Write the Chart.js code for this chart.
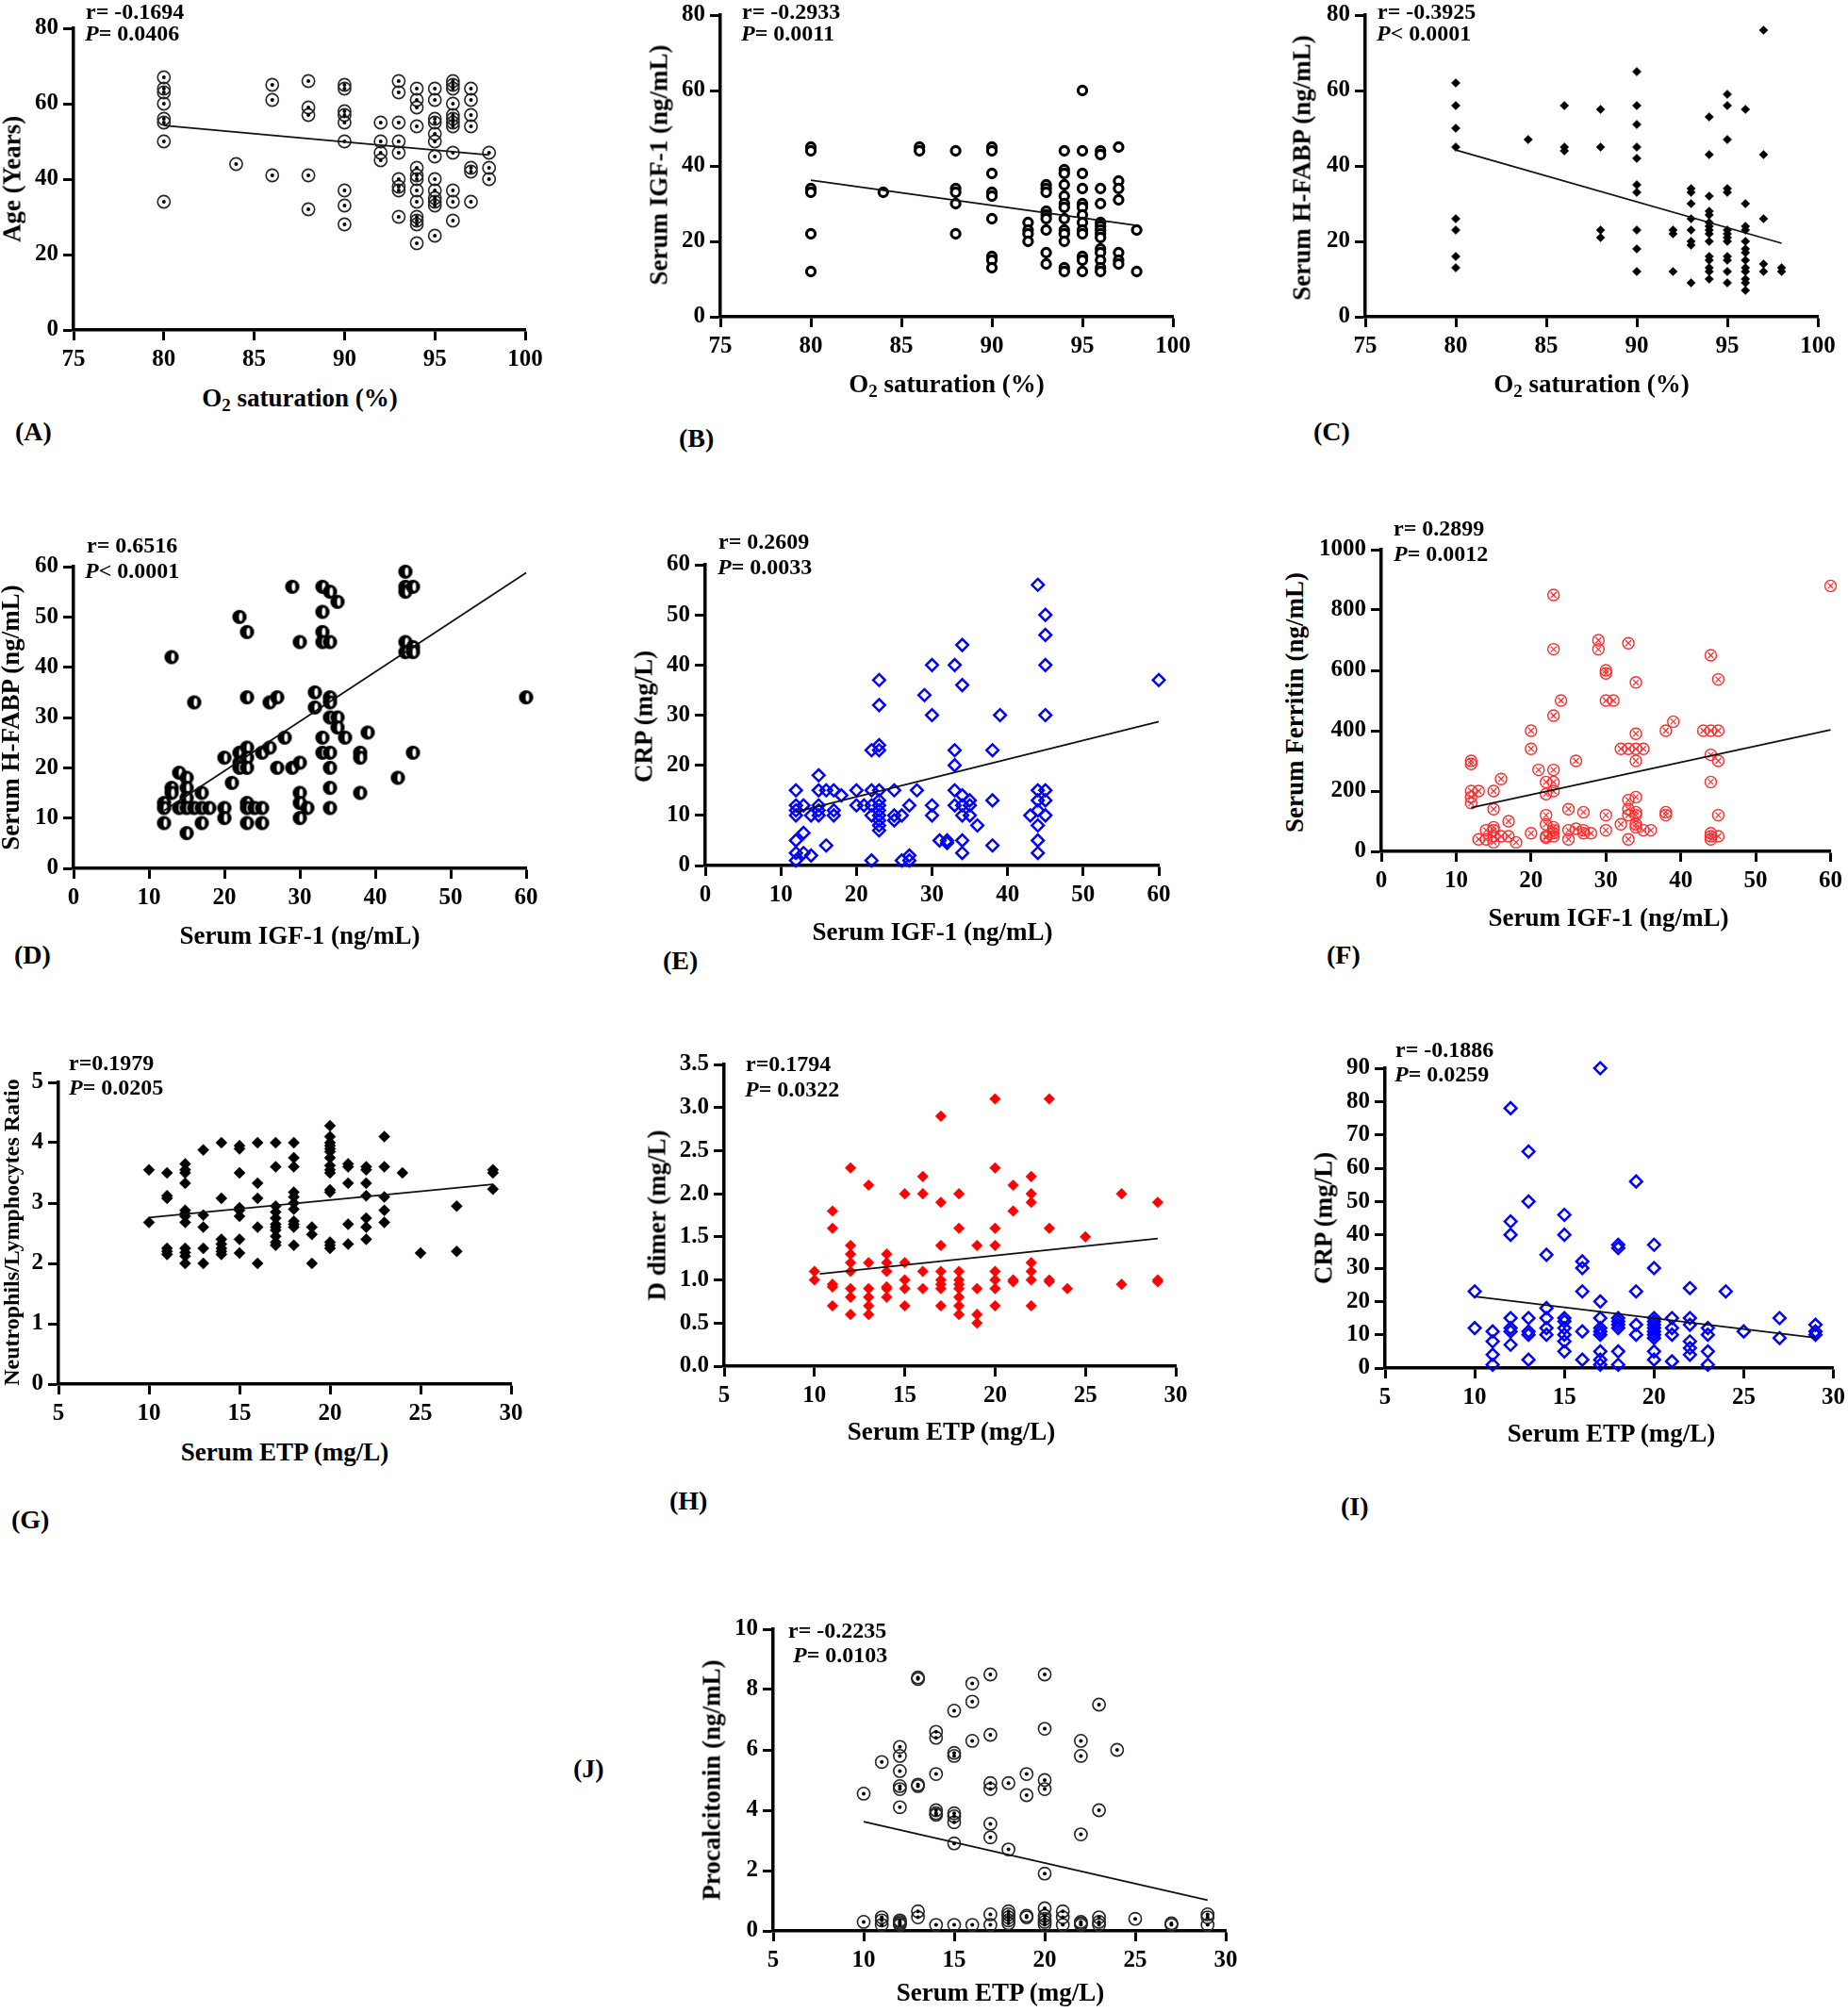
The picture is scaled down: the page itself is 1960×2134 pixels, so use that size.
<!DOCTYPE html>
<html><head><meta charset="utf-8">
<script src="https://cdn.jsdelivr.net/npm/chart.js@4.4.0/dist/chart.umd.min.js"></script>
<style>
html,body{margin:0;padding:0;background:#fff;}
body{width:1960px;height:2134px;position:relative;overflow:hidden;font-family:"Liberation Serif","Times New Roman",serif;color:#000;}
.box{position:absolute;}
.t{position:absolute;white-space:nowrap;font-weight:bold;line-height:1;}
sub{font-size:0.7em;vertical-align:-0.3em;line-height:0;}
</style></head><body>
<script>
// ---------- DATA ----------
// (A) O2 saturation vs Age
const aX = [80,84,86,88,90,92,93,94,95,96,97,98];
const aY = [
 [67,64,63,60,56,55,50,34],[44],[65,61,41],[66,59,57,41,32],
 [65,64,58,57,55,50,37,33,28],[55,50,47,45],[66,63,55,50,47,40,38,37,30],
 [64,61,59,54,43,41,40,37,34,30,29,28,23],[64,61,56,55,52,50,46,40,37,35,34,33,25],
 [66,65,64,60,57,56,55,54,47,37,34,29],[64,61,57,54,43,42,34],[47,43,40]];
const aFit = [[80,54.2],[98,46.4]];
// (B) O2 saturation vs IGF-1
const bX = [80,84,86,88,90,92,93,94,95,96,97,98];
const bY = [
 [45,44,34,33,22,12],[33],[45,44],[44,34,33,30,22],
 [45,44,38,33,32,26,16,15,13],[25,23,22,20],[35,34,33,28,27,26,23,17,14],
 [44,39,38,35,32,30,29,26,23,22,20,13,12],[60,44,38,34,30,29,27,25,23,22,16,15,12],
 [44,43,34,30,25,24,23,22,21,18,17,15,13,12],[45,36,34,31,17,15,14],[23,12]];
const bFit = [[80,36.2],[98,24.2]];
// (C) O2 saturation vs H-FABP
const cX = [80,84,86,88,90,92,93,94,95,96,97,98];
const cY = [
 [62,56,50,45,26,23,16,13],[47],[56,45,44],[55,45,23,21],
 [65,56,51,45,42,35,33,23,18,12],[23,22,12],[34,33,30,26,23,20,19,9],
 [53,43,32,28,27,25,24,23,22,20,16,15,13,12,10],[59,56,47,34,33,23,22,21,20,16,15,12,9],
 [55,30,24,23,20,18,17,15,13,12,10,9,7],[76,43,26,14,12],[13,12]];
const cFit = [[80,44.2],[98,19.5]];
// (D) IGF-1 vs H-FABP
const dX = [12,13,14,15,16,17,18,20,21,22,23,24,25,26,27,28,29,30,31,32,33,34,35,36,38,39,43,44,45,60];
const dY = [
 [13,12,9],[42,16,15],[19,12],[18,16,14,12,7],[33,12],[15,12,9],[12],[22,12,10],[17],
 [50,23,21,20],[47,34,24,22,20,13,12,9],[12],[23,12,9],[33,24],[34,20],[26],[56,20],
 [45,21,15,13,10],[12],[35,32],[56,51,47,45,26,23],[55,45,34,33,30,23,20,16,12],
 [53,30,28],[26],[23,22,15],[27],[18],[59,56,55,45,43],[56,44,43,23],[34]];
const dFit = [[12,11.5],[60,58.8]];
// (E) IGF-1 vs CRP
const eX = [12,13,14,15,16,17,18,20,21,22,23,25,26,27,28,29,30,31,32,33,34,35,36,38,39,43,44,45,60];
const eY = [
 [15,12,11,10,5,2.5,1],[12,6.5,2.5],[10,2],[18,15,12,11,10],[15,4],[15,11,10],[14],[15,12],[12],
 [23,15,12,10,1],[37,32,24,23,15,13,12,11,10,9,8,7],[15,10,9],[10,1],[12,2,1],[15],[34],
 [40,30,12,10],[5],[5,4.5],[40,23,20,15,12],[44,36,14,12,10,5,2.5],[13,12,10],[8],
 [23,13,4],[30],[10],[56,15,13,11,8,5,2.5],[50,46,40,30,15,13,10],[37]];
const eFit = [[12,10.7],[60,28.7]];
// (F) IGF-1 vs Ferritin
const fX = [12,13,14,15,16,17,18,20,21,22,23,24,25,26,27,28,29,30,31,32,33,34,35,36,38,39,43,44,45,60];
const fY = [
 [300,290,200,180,160],[200,40],[70,40],[200,140,80,70,50,30],[240,50],[100,50],[30],
 [400,340,60],[270],[230,190,120,90,50,45],[850,670,450,270,230,200,80,70,60,50],[500],
 [140,70,40],[300,75],[130,70,60],[60],[700,670],[600,590,500,120,70],[500],[340,90],
 [690,340,170,140,120,40],[560,390,340,300,180,130,120,90,80],[340,70],[70],
 [400,130,120],[430],[400],[650,400,320,230,60,50,40],[570,400,300,120,50],[880]];
const fFit = [[12,145],[60,403]];
// (G)-(J) Serum ETP groups
const etpX = [10,11,12,13,14,15,16,17,18,19,20,21,22,23,24,25,27,29];
// (G) ETP vs N/L ratio
const gY = [
 [3.55,2.68],[3.5,3.12,3.08,2.25,2.2,2.15],
 [3.65,3.55,3.5,3.33,2.88,2.83,2.78,2.68,2.25,2.18,2.12,2.0],[3.88,2.8,2.6,2.25,2.0],
 [4.0,3.08,2.4,2.32,2.25,2.2,2.15],[3.95,3.9,3.5,2.92,2.88,2.78,2.4,2.17],[4.0,3.33,3.08,2.6,2.0],
 [4.0,3.6,2.95,2.85,2.75,2.65,2.6,2.55,2.45,2.35,2.3],[4.0,3.75,3.6,3.18,3.1,3.0,2.9,2.7,2.65,2.6,2.3],
 [2.6,2.48,2.0],[4.28,4.1,4.0,3.95,3.9,3.85,3.75,3.62,3.55,3.5,3.22,3.18,2.35,2.3,2.25],
 [3.65,3.6,3.33,2.65,2.32],[3.6,3.55,3.33,3.12,2.75,2.6,2.4],[4.1,3.6,3.1,2.88,2.68],
 [3.5],[2.17],[2.95,2.2],[3.55,3.5,3.23]];
const gFit = [[10,2.76],[29,3.31]];
// (H) ETP vs D dimer
const hY = [
 [1.1,1.0],[1.8,1.6,0.95,0.92,0.7],[2.3,1.4,1.3,1.2,1.1,0.9,0.8,0.6],[2.1,1.2,0.9,0.8,0.7,0.6],
 [1.3,1.2,1.1,0.92,0.9,0.8],[2.0,1.2,1.0,0.9,0.7],[2.2,2.0,1.1,0.9],[2.9,1.9,1.4,1.1,1.0,0.95,0.9,0.7],
 [2.0,1.6,1.1,1.0,0.95,0.9,0.8,0.7,0.6],[1.4,0.9,0.6,0.5],[3.1,2.3,1.6,1.4,1.1,1.0,0.9,0.7],
 [2.1,1.8,1.0,0.98],[2.2,2.0,1.9,1.2,1.1,1.0,0.7],[3.1,1.6,1.0,0.98],[0.9],[1.5],[2.0,0.95],[1.9,1.0,0.98]];
const hFit = [[10.3,1.07],[29,1.48]];
// (I) ETP vs CRP
const iY = [
 [23,12],[11,8,4,1],[78,44,40,15,12,11,7],[65,50,15,11,10,2.5],[34,18,15,12,10],
 [46,40,15,14,12,10,8,5],[32,30,23,11,2.5],[90,20,15,12,11,10,5,2.5,1],[37,36,15,14,13,12,5,1],
 [56,23,13,10],[37,30,15,14,13,12,11,10,9,5,2.5],[15,12,10,2],[24,15,13,8,6,4],[12,10,5,1],
 [23],[11],[15,9],[13,11,10]];
const iFit = [[10,21.5],[29,9.1]];
// (J) ETP vs Procalcitonin
const jY = [
 [4.55,0.3],[5.6,0.45,0.35,0.2],[6.1,5.8,5.3,4.8,4.7,4.1,0.35,0.3,0.25,0.2],[8.4,8.35,4.85,4.8,0.65,0.45],
 [6.6,6.4,5.2,4.0,3.9,3.85,0.2],[7.3,5.9,5.8,3.9,3.8,3.6,2.9,0.2],[8.2,7.6,6.3,0.2],
 [8.5,6.5,4.9,4.7,3.55,3.1,0.55,0.2],[4.9,2.7,0.65,0.55,0.45,0.35,0.25],[5.2,4.5,0.5,0.45],
 [8.5,6.7,5.0,4.7,1.9,0.75,0.5,0.4,0.3,0.2],[0.65,0.45,0.2],[6.3,5.8,3.2,0.3,0.25,0.2],
 [7.5,4.0,0.45,0.3,0.2],[6.0],[0.4],[0.25,0.2],[0.55,0.45,0.2]];
const jFit = [[10,3.62],[29,1.02]];

// ---------- helpers ----------
const FONT = "'Liberation Serif','Times New Roman',serif";
function pts(xs, ys){ const out=[]; xs.forEach((x,i)=>ys[i].forEach(y=>out.push({x:x,y:y}))); return out; }
function fitPts(f){ return f.map(p=>({x:p[0],y:p[1]})); }

function ringDot(data){ return [
  {data, pointStyle:'circle', pointRadius:2, backgroundColor:'#000', borderWidth:0, clip:false},
  {data, pointStyle:'circle', pointRadius:6.6, borderColor:'#262626', borderWidth:1.6, backgroundColor:'rgba(0,0,0,0)', clip:false}]; }
function smallRing(data){ return [
  {data, pointStyle:'circle', pointRadius:4.6, borderColor:'#000', borderWidth:3.1, backgroundColor:'#fff', clip:false}]; }
function filledDiamond(data, col, r){ return [
  {data, pointStyle:'rectRot', pointRadius:r, borderColor:col, borderWidth:0.5, backgroundColor:col, clip:false}]; }
function hollowDiamond(data){ return [
  {data, pointStyle:'rectRot', pointRadius:6.3, borderColor:'#0000ff', borderWidth:2.5, backgroundColor:'rgba(255,255,255,0)', clip:false}]; }
function crossCircle(data){ return [
  {data, pointStyle:'crossRot', pointRadius:4.2, borderColor:'#ff2a2a', borderWidth:1.2, backgroundColor:'rgba(0,0,0,0)', clip:false},
  {data, pointStyle:'circle', pointRadius:6, borderColor:'#ff2a2a', borderWidth:1.4, backgroundColor:'rgba(0,0,0,0)', clip:false}]; }
function halfImg(){
  const c=document.createElement('canvas'); c.width=17; c.height=17;
  const g=c.getContext('2d'); g.fillStyle='#000'; g.beginPath(); g.arc(8.5,8.5,7.6,0,2*Math.PI); g.fill();
  g.fillStyle='#fff'; g.beginPath(); g.ellipse(9.9,8.5,1.9,4.4,0,0,2*Math.PI); g.fill(); return c; }
function halfCircle(data){ return [{data, pointStyle:halfImg(), pointRadius:8, clip:false}]; }

function panel(o){
  const PT=22, PR=o.pr||26, YW=74, XH=56;
  const L=o.l-YW, T=o.t-PT, W=o.r-o.l+YW+PR, H=o.b-o.t+PT+XH;
  const d=document.createElement('div'); d.className='box';
  d.style.left=L+'px'; d.style.top=T+'px'; d.style.width=W+'px'; d.style.height=H+'px';
  const cv=document.createElement('canvas'); cv.width=W; cv.height=H; d.appendChild(cv); document.body.appendChild(d);
  const tickFont={family:FONT, size:25, weight:'bold'};
  const line={data:fitPts(o.fit), showLine:true, borderColor:'#111', borderWidth:1.8, pointRadius:0, clip:false};
  const fmt=o.yfmt||(v=>String(v));
  new Chart(cv,{type:'scatter', data:{datasets:[line].concat(o.sets)}, options:{
    responsive:false, animation:false, events:[],
    layout:{padding:{top:PT,right:PR,left:0,bottom:0}},
    plugins:{legend:{display:false}, tooltip:{enabled:false}},
    scales:{
      x:{type:'linear', min:o.xmin, max:o.xmax, afterFit:s=>{s.height=XH;},
         ticks:{stepSize:o.xstep, font:tickFont, color:'#000', padding:6, maxRotation:0, autoSkip:false, callback:v=>String(v)},
         grid:{drawOnChartArea:false, drawTicks:true, tickLength:11, tickWidth:3, color:'#000'},
         border:{display:true, color:'#000', width:3.5}},
      y:{type:'linear', min:o.ymin, max:o.ymax, afterFit:s=>{s.width=YW;},
         ticks:{stepSize:o.ystep, font:tickFont, color:'#000', padding:5, autoSkip:false, callback:fmt},
         grid:{drawOnChartArea:false, drawTicks:true, tickLength:11, tickWidth:3, color:'#000'},
         border:{display:true, color:'#000', width:3.5}}
    }}});
}

function txt(html, x, y, size, mode){
  const d=document.createElement('div'); d.className='t'; d.innerHTML=html; d.style.fontSize=size+'px';
  d.style.left=x+'px'; d.style.top=y+'px';
  if(mode==='c') d.style.transform='translate(-50%,-50%)';
  else if(mode==='v') d.style.transform='translate(-50%,-50%) rotate(-90deg)';
  else d.style.transform='translate(0,-50%)';
  document.body.appendChild(d);
}

// ---------- panels ----------
panel({l:78,r:557,t:30,b:350,xmin:75,xmax:100,xstep:5,ymin:0,ymax:80,ystep:20,fit:aFit,sets:ringDot(pts(aX,aY))});
panel({l:764,r:1244,t:16,b:336,xmin:75,xmax:100,xstep:5,ymin:0,ymax:80,ystep:20,fit:bFit,sets:smallRing(pts(bX,bY))});
panel({l:1448,r:1928,t:16,b:336,xmin:75,xmax:100,xstep:5,ymin:0,ymax:80,ystep:20,fit:cFit,sets:filledDiamond(pts(cX,cY),'#000',4.6)});
panel({l:78,r:558,t:601,b:921,xmin:0,xmax:60,xstep:10,ymin:0,ymax:60,ystep:10,fit:dFit,sets:halfCircle(pts(dX,dY))});
panel({l:748,r:1229,t:599,b:918,xmin:0,xmax:60,xstep:10,ymin:0,ymax:60,ystep:10,fit:eFit,sets:hollowDiamond(pts(eX,eY))});
panel({l:1465,r:1945,t:583,b:903,xmin:0,xmax:60,xstep:10,ymin:0,ymax:1000,ystep:200,fit:fFit,sets:crossCircle(pts(fX,fY)),pr:15});
panel({l:62,r:542,t:1148,b:1468,xmin:5,xmax:30,xstep:5,ymin:0,ymax:5,ystep:1,fit:gFit,sets:filledDiamond(pts(etpX,gY),'#000',6)});
panel({l:768,r:1247,t:1129,b:1449,xmin:5,xmax:30,xstep:5,ymin:0,ymax:3.5,ystep:0.5,fit:hFit,sets:filledDiamond(pts(etpX,hY),'#ff0000',5.8),yfmt:v=>v.toFixed(1)});
panel({l:1469,r:1948,t:1133,b:1451,xmin:5,xmax:30,xstep:5,ymin:0,ymax:90,ystep:10,fit:iFit,sets:hollowDiamond(pts(etpX,iY)),pr:15});
panel({l:820,r:1300,t:1728,b:2048,xmin:5,xmax:30,xstep:5,ymin:0,ymax:10,ystep:2,fit:jFit,sets:ringDot(pts(etpX,jY))});

// ---------- text ----------
const o2 = 'O<sub>2</sub> saturation (%)';
const igf = 'Serum IGF-1 (ng/mL)', etp = 'Serum ETP (mg/L)';
// A
txt('r= -0.1694',91,12,24); txt('<i>P</i>= 0.0406',90,35,24);
txt('(A)',16,458,28); txt(o2,318,422,27,'c'); txt('Age (Years)',13,190,27,'v');
// B
txt('r= -0.2933',787,12,24); txt('<i>P</i>= 0.0011',786,35,24);
txt('(B)',720,465,28); txt(o2,1004,407,27,'c'); txt('Serum IGF-1 (ng/mL)',699,175,27,'v');
// C
txt('r= -0.3925',1461,12,24); txt('<i>P</i>&lt; 0.0001',1460,35,24);
txt('(C)',1393,458,28); txt(o2,1688,407,27,'c'); txt('Serum H-FABP (ng/mL)',1381,178,27,'v');
// D
txt('r= 0.6516',92,578,24); txt('<i>P</i>&lt; 0.0001',90,605,24);
txt('(D)',15,1013,28); txt(igf,318,992,27,'c'); txt('Serum H-FABP (ng/mL)',11,761,27,'v');
// E
txt('r= 0.2609',762,574,24); txt('<i>P</i>= 0.0033',761,601,24);
txt('(E)',703,1019,28); txt(igf,989,988,27,'c'); txt('CRP (mg/L)',683,760,27,'v');
// F
txt('r= 0.2899',1478,560,24); txt('<i>P</i>= 0.0012',1478,587,24);
txt('(F)',1407,1013,28); txt(igf,1706,973,27,'c'); txt('Serum Ferritin (ng/mL)',1373,745,27,'v');
// G
txt('r=0.1979',73,1127,24); txt('<i>P</i>= 0.0205',73,1153,24);
txt('(G)',12,1612,28); txt(etp,302,1540,27,'c'); txt('Neutrophils/Lymphocytes Ratio',12,1307,24,'v');
// H
txt('r=0.1794',791,1128,24); txt('<i>P</i>= 0.0322',790,1155,24);
txt('(H)',710,1592,28); txt(etp,1009,1518,27,'c'); txt('D dimer (mg/L)',697,1289,27,'v');
// I
txt('r= -0.1886',1480,1113,24); txt('<i>P</i>= 0.0259',1479,1139,24);
txt('(I)',1422,1598,28); txt(etp,1709,1520,27,'c'); txt('CRP (mg/L)',1404,1292,27,'v');
// J
txt('r= -0.2235',836,1729,24); txt('<i>P</i>= 0.0103',841,1755,24);
txt('(J)',608,1876,28); txt(etp,1061,2113,27,'c'); txt('Procalcitonin (ng/mL)',755,1888,27,'v');
</script>
</body></html>
